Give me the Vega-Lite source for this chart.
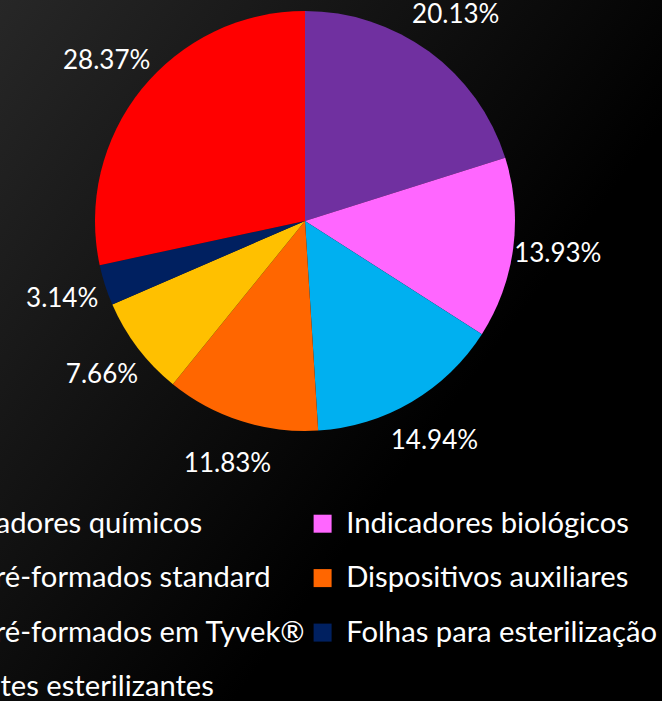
{
  "$schema": "https://vega.github.io/schema/vega-lite/v6.json",
  "width": 714,
  "height": 960,
  "autosize": {"type": "none"},
  "padding": {"left": -52, "top": -259, "right": 0, "bottom": 0},
  "background": "#000000",
  "config": {
    "view": {"stroke": null},
    "font": "Lato"
  },
  "data": {
    "values": [
      {"o": 1, "category": "Indicadores químicos", "value": 20.13, "label": "20.13%"},
      {"o": 2, "category": "Indicadores biológicos", "value": 13.93, "label": "13.93%"},
      {"o": 3, "category": "Kit pré-formados standard", "value": 14.94, "label": "14.94%"},
      {"o": 4, "category": "Dispositivos auxiliares", "value": 11.83, "label": "11.83%"},
      {"o": 5, "category": "Kit pré-formados em Tyvek®", "value": 7.66, "label": "7.66%"},
      {"o": 6, "category": "Folhas para esterilização", "value": 3.14, "label": "3.14%"},
      {"o": 7, "category": "Agentes esterilizantes", "value": 28.37, "label": "28.37%"}
    ]
  },
  "layer": [
    {
      "data": {"values": [{"bg": 1}]},
      "mark": {
        "type": "rect",
        "x": 0, "x2": "width", "y": 0, "y2": "height",
        "fill": {
          "gradient": "linear",
          "x1": 0, "y1": 0, "x2": 1, "y2": 1,
          "stops": [
            {"offset": 0, "color": "#343434"},
            {"offset": 0.171, "color": "#272727"},
            {"offset": 0.7, "color": "#000000"},
            {"offset": 1, "color": "#000000"}
          ]
        },
        "strokeWidth": 0
      },
      "encoding": {}
    },
    {
      "mark": {"type": "arc", "outerRadius": 210, "stroke": null},
      "encoding": {
        "theta": {"field": "value", "type": "quantitative", "stack": true},
        "order": {"field": "o", "type": "quantitative"},
        "color": {
          "field": "category",
          "type": "nominal",
          "scale": {
            "domain": ["Indicadores químicos", "Indicadores biológicos", "Kit pré-formados standard", "Dispositivos auxiliares", "Kit pré-formados em Tyvek®", "Folhas para esterilização", "Agentes esterilizantes"],
            "range": ["#7030A0", "#FF66FF", "#00B0F0", "#FF6600", "#FFC000", "#002060", "#FF0000"]
          },
          "legend": {
            "title": null,
            "orient": "none",
            "legendX": -52,
            "legendY": 768,
            "columns": 2,
            "direction": "horizontal",
            "symbolType": "square",
            "symbolSize": 324,
            "symbolStrokeWidth": 0,
            "labelColor": "#FFFFFF",
            "labelFont": "Lato",
            "labelFontSize": 29.2,
            "labelLimit": 0,
            "labelOffset": 9,
            "rowPadding": 24.5,
            "columnPadding": 2,
            "padding": 0
          }
        }
      }
    },
    {
      "mark": {"type": "text", "radius": 255, "fontSize": 26, "color": "#FFFFFF", "font": "Lato"},
      "encoding": {
        "theta": {"field": "value", "type": "quantitative", "stack": true},
        "order": {"field": "o", "type": "quantitative"},
        "text": {"field": "label", "type": "nominal"}
      }
    }
  ]
}
